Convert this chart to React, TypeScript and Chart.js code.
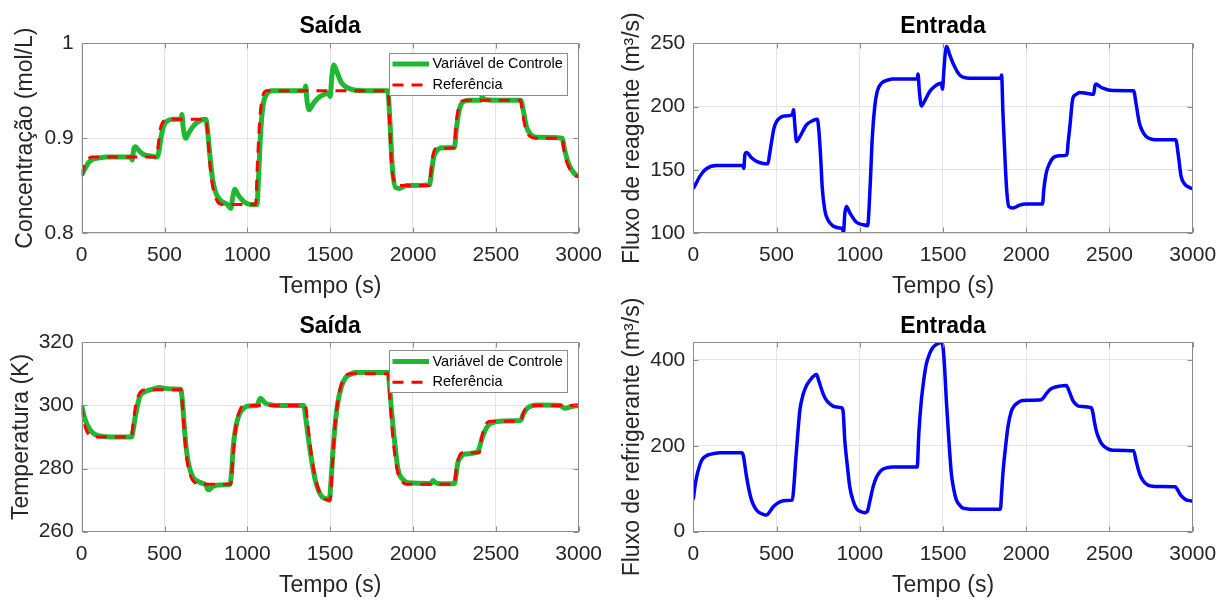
import React, { useEffect, useRef } from 'react';
import { Chart, registerables } from 'chart.js';

Chart.register(...registerables);

const FONT = "'Liberation Sans', Arial, Helvetica, sans-serif";
const GREEN = '#1fb833';
const RED = '#ff0000';
const BLUE = '#0000ff';
const TEXT = '#262626';

// ---------- data ----------
const timeTicks = [0, 500, 1000, 1500, 2000, 2500, 3000];
const concTicks = [0.8, 0.9, 1];
const reagentTicks = [100, 150, 200, 250];
const tempTicks = [260, 280, 300, 320];
const coolantTicks = [0, 200, 400];

const concControl: [number, number][] = [
  [0, 0.861], [20, 0.868], [40, 0.874], [70, 0.878], [100, 0.879], [150, 0.88], [295, 0.88],
  [305, 0.877], [315, 0.889], [325, 0.891], [340, 0.888], [370, 0.883], [420, 0.881], [455, 0.88],
  [465, 0.885], [480, 0.902], [495, 0.913], [515, 0.918], [550, 0.92], [598, 0.92], [605, 0.925],
  [612, 0.912], [628, 0.9], [645, 0.905], [680, 0.914], [720, 0.919], [750, 0.92], [760, 0.908],
  [775, 0.88], [790, 0.857], [810, 0.842], [840, 0.834], [880, 0.83], [900, 0.826], [910, 0.836],
  [925, 0.846], [945, 0.84], [980, 0.833], [1020, 0.83], [1058, 0.83], [1068, 0.86], [1080, 0.905],
  [1095, 0.935], [1115, 0.946], [1150, 0.95], [1345, 0.95], [1352, 0.955], [1360, 0.94], [1372, 0.93],
  [1400, 0.937], [1440, 0.944], [1495, 0.947], [1500, 0.944], [1510, 0.965], [1522, 0.977],
  [1540, 0.97], [1570, 0.958], [1620, 0.952], [1700, 0.95], [1848, 0.95], [1860, 0.92], [1875, 0.87],
  [1895, 0.848], [1920, 0.847], [1960, 0.85], [2100, 0.851], [2110, 0.862], [2125, 0.88],
  [2145, 0.887], [2175, 0.89], [2250, 0.89], [2262, 0.91], [2280, 0.93], [2300, 0.938], [2340, 0.94],
  [2410, 0.94], [2418, 0.944], [2428, 0.941], [2500, 0.94], [2650, 0.94], [2665, 0.93], [2685, 0.912],
  [2710, 0.904], [2750, 0.901], [2900, 0.9], [2915, 0.888], [2935, 0.875], [2960, 0.866],
  [2985, 0.861], [3000, 0.86],
];

const concReference: [number, number][] = [
  [0, 0.86], [15, 0.87], [35, 0.877], [60, 0.88], [450, 0.88], [460, 0.89], [475, 0.91], [490, 0.917],
  [510, 0.92], [750, 0.92], [760, 0.905], [775, 0.87], [795, 0.845], [820, 0.833], [850, 0.83],
  [1050, 0.83], [1060, 0.87], [1075, 0.92], [1090, 0.942], [1115, 0.95], [1850, 0.95], [1858, 0.92],
  [1870, 0.875], [1885, 0.855], [1905, 0.85], [2100, 0.85], [2108, 0.865], [2120, 0.882],
  [2140, 0.889], [2250, 0.89], [2260, 0.915], [2275, 0.932], [2295, 0.939], [2330, 0.94],
  [2650, 0.94], [2660, 0.928], [2680, 0.91], [2705, 0.902], [2740, 0.9], [2900, 0.9], [2912, 0.887],
  [2930, 0.874], [2955, 0.865], [2985, 0.86], [3000, 0.86],
];

const reagentFlow: [number, number][] = [
  [0, 135], [20, 140], [40, 145], [80, 151], [140, 153.4], [298, 153.4], [303, 151], [310, 162],
  [320, 163.7], [350, 159.5], [380, 156.6], [420, 155], [448, 154.7], [458, 162], [470, 172],
  [485, 183], [500, 188], [520, 191], [545, 192.5], [595, 193.4], [602, 197.4], [610, 185],
  [620, 172.4], [640, 176], [680, 185.5], [720, 189], [745, 190], [755, 180], [765, 160], [775, 135],
  [790, 118], [810, 110], [840, 105.5], [880, 104], [897, 103], [902, 100], [910, 115], [920, 121],
  [940, 116], [980, 108.5], [1020, 106.5], [1048, 105.8], [1056, 120], [1065, 145], [1075, 175],
  [1090, 200], [1105, 212], [1130, 218.4], [1170, 221], [1200, 221.8], [1345, 221.8], [1350, 225.8],
  [1358, 212], [1370, 200.5], [1390, 204.5], [1420, 211.8], [1450, 216], [1490, 218.4], [1497, 213.7],
  [1505, 228], [1515, 244], [1522, 247.4], [1540, 241], [1560, 234.2], [1600, 225], [1660, 222.4],
  [1848, 222.4], [1852, 225], [1860, 195], [1870, 165.8], [1882, 135], [1895, 121], [1920, 119.7],
  [1960, 122], [2000, 123], [2098, 123], [2106, 135], [2120, 147.4], [2140, 155], [2160, 159.2],
  [2200, 161], [2245, 161.8], [2252, 172], [2262, 184], [2280, 206.6], [2300, 209.5], [2320, 211],
  [2360, 210.5], [2405, 209.7], [2412, 216], [2420, 217.9], [2440, 216], [2460, 214.5], [2520, 212.6],
  [2645, 212.4], [2660, 202], [2680, 186.8], [2700, 180], [2720, 176.3], [2760, 174], [2800, 173.7],
  [2898, 173.7], [2915, 160], [2930, 145], [2950, 139], [2980, 136], [3000, 135],
];

const tempControl: [number, number][] = [
  [0, 300], [15, 296.5], [30, 294.3], [50, 292.3], [70, 291.2], [100, 290.4], [150, 290.1], [300, 290],
  [310, 292], [320, 295.4], [335, 299.5], [350, 302.8], [380, 304.3], [410, 304.9], [440, 305.3],
  [470, 305.7], [500, 305.4], [560, 305.2], [598, 305.1], [610, 300], [620, 293], [630, 287],
  [645, 281.5], [670, 277.4], [700, 276], [730, 275.3], [750, 274.8], [760, 273.4], [770, 273.3],
  [790, 274.3], [830, 274.8], [895, 275], [905, 279], [915, 287], [930, 293], [950, 297], [980, 299.2],
  [1010, 299.8], [1060, 300], [1070, 301.5], [1080, 302.3], [1095, 301.5], [1110, 300.7],
  [1140, 300.2], [1170, 300], [1340, 300], [1355, 295], [1370, 289], [1390, 282], [1410, 276.4],
  [1430, 273], [1450, 271.1], [1480, 270.3], [1495, 270], [1505, 276], [1515, 284], [1530, 294],
  [1545, 300.5], [1565, 305.5], [1590, 308.6], [1620, 309.8], [1650, 310.4], [1850, 310.4],
  [1860, 305], [1870, 298.6], [1890, 288], [1910, 279.6], [1940, 276.5], [1970, 275.5], [2110, 275.3],
  [2120, 276.2], [2130, 275.8], [2150, 275.3], [2250, 275.2], [2260, 278], [2270, 281.7],
  [2290, 283.7], [2310, 284.6], [2390, 285.2], [2400, 286.5], [2420, 290.1], [2445, 293],
  [2470, 294.3], [2550, 295.1], [2650, 295.2], [2665, 297.2], [2690, 299.1], [2720, 299.9],
  [2750, 300.1], [2890, 300], [2905, 299.4], [2920, 299.1], [2950, 299.6], [3000, 300],
];

const tempReference: [number, number][] = [
  [0, 300], [10, 296], [25, 292.5], [45, 290.7], [70, 290], [300, 290], [312, 295], [330, 301],
  [355, 304.3], [380, 305], [600, 305], [612, 297], [630, 285], [655, 278], [690, 275.3], [720, 275],
  [900, 275], [912, 283], [930, 293], [955, 298.5], [985, 300], [1350, 300], [1365, 294], [1385, 285],
  [1410, 277], [1440, 272], [1470, 270.3], [1500, 270], [1512, 280], [1530, 294], [1555, 304],
  [1585, 308.8], [1620, 310], [1850, 310], [1862, 301], [1880, 289], [1905, 279.5], [1935, 275.8],
  [1960, 275], [2250, 275], [2262, 280], [2280, 284], [2300, 285], [2400, 285], [2415, 290],
  [2440, 294], [2465, 295], [2650, 295], [2665, 297.5], [2690, 299.5], [2715, 300], [3000, 300],
];

const coolantFlow: [number, number][] = [
  [0, 75], [10, 105], [20, 127.7], [35, 150], [50, 166], [75, 176], [100, 180], [160, 184], [290, 184],
  [300, 178], [320, 127.7], [335, 97], [350, 73.5], [370, 56], [390, 46.4], [420, 40.5], [440, 38.7],
  [460, 47], [480, 58], [500, 65], [520, 69.6], [560, 72.5], [595, 73.5], [605, 110], [615, 166],
  [628, 230], [640, 282.4], [660, 320], [680, 340.4], [700, 352], [720, 361.3], [740, 366], [755, 350],
  [780, 321], [800, 306], [820, 297.9], [850, 291], [890, 288.6], [900, 280], [910, 212.8], [925, 155],
  [940, 104.4], [960, 72], [980, 54.2], [1005, 47], [1030, 44.1], [1045, 47], [1060, 70], [1080, 104.4],
  [1100, 127], [1130, 143], [1160, 148.5], [1200, 150.9], [1345, 150.9], [1355, 230], [1370, 305.7],
  [1385, 355], [1400, 390.6], [1420, 415], [1440, 429.2], [1465, 437], [1490, 440.8], [1500, 430],
  [1510, 380], [1520, 305.7], [1535, 215], [1550, 135.9], [1565, 98], [1580, 74.1], [1600, 62],
  [1620, 54.8], [1650, 53], [1680, 52.5], [1845, 52.5], [1852, 90], [1860, 135.9], [1875, 195],
  [1890, 244], [1910, 280], [1930, 294], [1955, 302], [1980, 305.7], [2090, 307.3], [2105, 313],
  [2120, 321], [2140, 330], [2160, 335], [2200, 339], [2240, 340.4], [2260, 325], [2280, 305.7],
  [2300, 296], [2320, 291.8], [2390, 288.7], [2400, 278], [2410, 255], [2420, 236.2], [2440, 214],
  [2460, 201.5], [2490, 193], [2520, 189.9], [2645, 188.4], [2660, 165], [2680, 135.9], [2700, 120],
  [2730, 108.9], [2770, 105.5], [2800, 105], [2895, 104.5], [2910, 97], [2920, 89.6], [2940, 80],
  [2960, 74.1], [2990, 71.8], [3000, 71],
];

// ---------- plugins ----------
const matlabAxes = {
  id: 'matlabAxes',
  afterDatasetsDraw(chart: any) {
    const { ctx, chartArea } = chart;
    const l = Math.round(chartArea.left) + 0.5;
    const r = Math.round(chartArea.right) - 0.5;
    const t = Math.round(chartArea.top) + 0.5;
    const b = Math.round(chartArea.bottom) - 0.5;
    ctx.save();
    ctx.strokeStyle = '#8c8c8c';
    ctx.lineWidth = 1;
    ctx.beginPath();
    const xs = chart.scales.x;
    xs.ticks.forEach((tk: any) => {
      const px = Math.round(xs.getPixelForValue(tk.value)) + 0.5;
      ctx.moveTo(px, b); ctx.lineTo(px, b - 5);
      ctx.moveTo(px, t); ctx.lineTo(px, t + 5);
    });
    const ys = chart.scales.y;
    ys.ticks.forEach((tk: any) => {
      const py = Math.round(ys.getPixelForValue(tk.value)) + 0.5;
      ctx.moveTo(l, py); ctx.lineTo(l + 5, py);
      ctx.moveTo(r, py); ctx.lineTo(r - 5, py);
    });
    ctx.stroke();
    ctx.strokeRect(l, t, r - l, b - t);
    ctx.restore();
  },
};

const matlabLegend = {
  id: 'matlabLegend',
  afterDraw(chart: any, _args: any, opts: any) {
    const { ctx, chartArea } = chart;
    const w = opts.width, h = opts.height;
    const x = Math.round(chartArea.right - opts.right - w);
    const y = Math.round(chartArea.top + opts.top);
    ctx.save();
    ctx.fillStyle = '#ffffff';
    ctx.fillRect(x, y, w, h);
    ctx.strokeStyle = '#8c8c8c';
    ctx.lineWidth = 1;
    ctx.strokeRect(x + 0.5, y + 0.5, w, h);
    chart.data.datasets.forEach((ds: any, i: number) => {
      const ly = y + opts.rows[i];
      ctx.beginPath();
      ctx.strokeStyle = ds.borderColor;
      ctx.lineWidth = ds.borderWidth;
      ctx.setLineDash(ds.borderDash || []);
      ctx.moveTo(x + 3.5, ly);
      ctx.lineTo(x + 40, ly);
      ctx.stroke();
      ctx.setLineDash([]);
      ctx.fillStyle = '#000000';
      ctx.font = `14.5px ${FONT}`;
      ctx.textBaseline = 'middle';
      ctx.textAlign = 'left';
      ctx.fillText(ds.label, x + 43.5, ly);
    });
    ctx.restore();
  },
};

// ---------- config builder ----------
const toXY = (arr: [number, number][]) => arr.map(([x, y]) => ({ x, y }));

type PanelSpec = {
  left: number; top: number; width: number; height: number;
  title: string; titlePad: [number, number];
  yLabel: string; yLabelPad: number; yMin: number; yMax: number; yTicks: number[];
  yWidth: number; xHeight: number; xTitlePad: number; padRight: number;
  datasets: any[];
  legend?: { right: number; top: number; width: number; height: number; rows: number[] };
};

function buildConfig(p: PanelSpec): any {
  const plugins: any[] = [matlabAxes];
  if (p.legend) plugins.push(matlabLegend);
  return {
    type: 'line',
    data: { datasets: p.datasets },
    plugins,
    options: {
      responsive: false,
      animation: false,
      devicePixelRatio: 1,
      layout: { padding: { left: 0, right: p.padRight, top: 0, bottom: 0 } },
      elements: { point: { radius: 0 } },
      plugins: {
        legend: { display: false },
        tooltip: { enabled: false },
        title: {
          display: true,
          text: p.title,
          fullSize: false,
          color: '#000000',
          font: { family: FONT, size: 23, weight: 'bold', lineHeight: 1 },
          padding: { top: p.titlePad[0], bottom: p.titlePad[1] },
        },
        matlabLegend: p.legend || {},
      },
      scales: {
        x: {
          type: 'linear',
          min: 0,
          max: 3000,
          afterBuildTicks: (s: any) => { s.ticks = timeTicks.map((v) => ({ value: v })); },
          afterFit: (s: any) => { s.height = p.xHeight; },
          grid: { color: '#e4e4e4', lineWidth: 1, drawTicks: false },
          border: { display: false },
          ticks: {
            color: TEXT,
            font: { family: FONT, size: 21 },
            padding: 10,
            maxRotation: 0,
            autoSkip: false,
            callback: (v: any) => String(v),
          },
          title: {
            display: true,
            text: 'Tempo (s)',
            color: TEXT,
            font: { family: FONT, size: 23, lineHeight: 1 },
            padding: { top: 0, bottom: p.xTitlePad },
          },
        },
        y: {
          type: 'linear',
          min: p.yMin,
          max: p.yMax,
          afterBuildTicks: (s: any) => { s.ticks = p.yTicks.map((v) => ({ value: v })); },
          afterFit: (s: any) => { s.width = p.yWidth; },
          grid: { color: '#e4e4e4', lineWidth: 1, drawTicks: false },
          border: { display: false },
          ticks: {
            color: TEXT,
            font: { family: FONT, size: 21 },
            padding: 8,
            callback: (v: any) => String(v),
          },
          title: {
            display: true,
            text: p.yLabel,
            color: TEXT,
            font: { family: FONT, size: 23, lineHeight: 1 },
            padding: { top: p.yLabelPad, bottom: 0 },
          },
        },
      },
    },
  };
}

const lineStyle = (label: string, arr: [number, number][], color: string, width: number, order: number, dash?: number[]) => ({
  label,
  data: toXY(arr),
  borderColor: color,
  backgroundColor: color,
  borderWidth: width,
  borderDash: dash || [],
  pointRadius: 0,
  fill: false,
  cubicInterpolationMode: 'monotone',
  borderJoinStyle: 'round',
  order,
});

const panels: PanelSpec[] = [
  {
    left: 0, top: 0, width: 612, height: 300,
    title: 'Saída', titlePad: [15.5, 4.8],
    yLabel: 'Concentração (mol/L)', yLabelPad: 14, yMin: 0.8, yMax: 1, yTicks: concTicks,
    yWidth: 81.7, xHeight: 67, xTitlePad: 1.5, padRight: 30.5,
    datasets: [
      lineStyle('Variável de Controle', concControl, GREEN, 5, 1),
      lineStyle('Referência', concReference, RED, 3, 0, [11, 8]),
    ],
    legend: { right: 11.5, top: 10, width: 178, height: 42, rows: [11, 32] },
  },
  {
    left: 612, top: 0, width: 618, height: 300,
    title: 'Entrada', titlePad: [15.5, 4.8],
    yLabel: 'Fluxo de reagente (m³/s)', yLabelPad: 9, yMin: 100, yMax: 250, yTicks: reagentTicks,
    yWidth: 81.3, xHeight: 67, xTitlePad: 1.5, padRight: 37.3,
    datasets: [lineStyle('Fluxo de reagente', reagentFlow, BLUE, 3.5, 0)],
  },
  {
    left: 0, top: 290, width: 612, height: 311,
    title: 'Saída', titlePad: [24.8, 4.5],
    yLabel: 'Temperatura (K)', yLabelPad: 10.5, yMin: 260, yMax: 320, yTicks: tempTicks,
    yWidth: 81.7, xHeight: 69.3, xTitlePad: 4.3, padRight: 30.5,
    datasets: [
      lineStyle('Variável de Controle', tempControl, GREEN, 5, 1),
      lineStyle('Referência', tempReference, RED, 3, 0, [11, 8]),
    ],
    legend: { right: 11.5, top: 8, width: 178, height: 42, rows: [11.5, 32.3] },
  },
  {
    left: 612, top: 280, width: 618, height: 321,
    title: 'Entrada', titlePad: [34.8, 4.5],
    yLabel: 'Fluxo de refrigerante (m³/s)', yLabelPad: 9.5, yMin: 0, yMax: 441, yTicks: coolantTicks,
    yWidth: 81.3, xHeight: 69.3, xTitlePad: 4.3, padRight: 37.3,
    datasets: [lineStyle('Fluxo de refrigerante', coolantFlow, BLUE, 3.5, 0)],
  },
];

function Panel({ spec }: { spec: PanelSpec }) {
  const ref = useRef<HTMLCanvasElement | null>(null);
  useEffect(() => {
    if (!ref.current) return;
    const chart = new Chart(ref.current, buildConfig(spec));
    return () => chart.destroy();
  }, [spec]);
  return (
    <canvas
      ref={ref}
      width={spec.width}
      height={spec.height}
      style={{ position: 'absolute', left: spec.left, top: spec.top, width: spec.width, height: spec.height }}
    />
  );
}

export default function App() {
  return (
    <div style={{ position: 'absolute', left: 0, top: 0, width: 1230, height: 601, background: '#ffffff', overflow: 'hidden' }}>
      {panels.map((p, i) => (
        <Panel key={i} spec={p} />
      ))}
    </div>
  );
}
